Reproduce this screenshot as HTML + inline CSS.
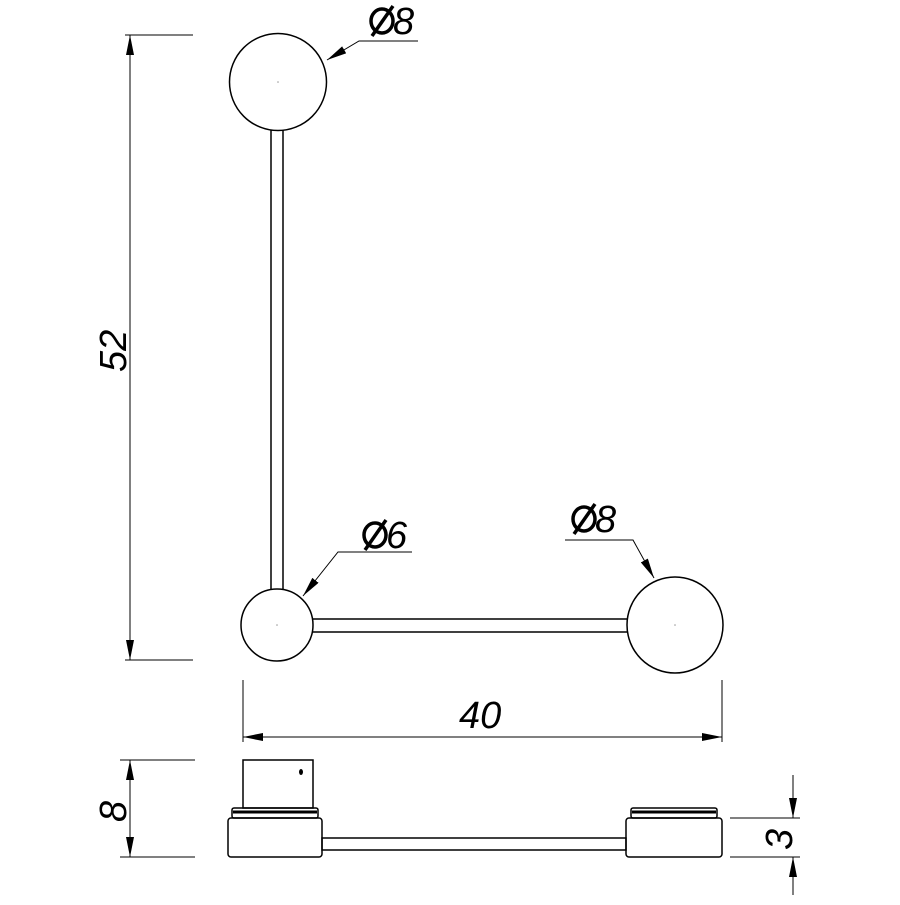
<!DOCTYPE html>
<html><head><style>body{margin:0;background:#fff}</style></head><body>
<svg width="900" height="900" viewBox="0 0 900 900" xmlns="http://www.w3.org/2000/svg">
<defs><marker id="a" viewBox="0 0 10 4" refX="10" refY="2" markerWidth="20" markerHeight="8" markerUnits="userSpaceOnUse" orient="auto"><path d="M0,0L10,2L0,4z" fill="#000"/></marker></defs>
<g fill="none" stroke="#000" stroke-width="1.5">
<rect x="271" y="130" width="12" height="463"/>
<rect x="311" y="619" width="318" height="13"/>
<circle cx="278" cy="82" r="48.5" fill="#fff"/>
<circle cx="277" cy="625" r="36" fill="#fff"/>
<circle cx="675" cy="625" r="48" fill="#fff"/>
<rect x="243" y="760" width="70" height="48"/>
<rect x="232" y="808" width="86" height="10" rx="2"/>
<rect x="228" y="818" width="94" height="39" rx="3"/>
<rect x="322" y="838" width="304" height="12"/>
<rect x="631" y="808" width="86" height="10" rx="2"/>
<rect x="626" y="818" width="96" height="39" rx="3"/>
</g>
<g fill="#999"><circle cx="278" cy="82" r="0.8"/><circle cx="277" cy="625" r="0.8"/><circle cx="675" cy="625" r="0.8"/></g>
<g stroke="#000" stroke-width="3"><line x1="233" y1="812" x2="317" y2="812"/><line x1="632" y1="812" x2="716" y2="812"/></g>
<ellipse cx="301" cy="772" rx="2" ry="3" fill="#000"/>
<g stroke="#000" stroke-width="1">
<line x1="125" y1="35" x2="193" y2="35"/><line x1="125" y1="660" x2="193" y2="660"/>
<line x1="130" y1="35" x2="130" y2="660" marker-end="url(#a)"/>
<line x1="130" y1="660" x2="130" y2="35" marker-end="url(#a)"/>
<line x1="243" y1="680" x2="243" y2="742"/><line x1="722" y1="680" x2="722" y2="742"/>
<line x1="243" y1="737" x2="722" y2="737" marker-end="url(#a)"/>
<line x1="722" y1="737" x2="243" y2="737" marker-end="url(#a)"/>
<line x1="120" y1="760" x2="195" y2="760"/><line x1="120" y1="857" x2="195" y2="857"/>
<line x1="130" y1="760" x2="130" y2="857" marker-end="url(#a)"/>
<line x1="130" y1="857" x2="130" y2="760" marker-end="url(#a)"/>
<line x1="730" y1="818" x2="800" y2="818"/><line x1="730" y1="857" x2="800" y2="857"/>
<line x1="793" y1="775" x2="793" y2="818" marker-end="url(#a)"/>
<line x1="793" y1="895" x2="793" y2="857" marker-end="url(#a)"/>
<polyline points="418,41 359,41 327,60" fill="none" marker-end="url(#a)"/>
<polyline points="412,552 338,552 303,596" fill="none" marker-end="url(#a)"/>
<polyline points="565,540 633,540 654,578" fill="none" marker-end="url(#a)"/>
</g>
<g fill="none" stroke="#000" stroke-width="3.5">
<ellipse cx="382" cy="21" rx="11" ry="12"/><line x1="372" y1="36" x2="393" y2="6"/>
<ellipse cx="375" cy="535" rx="11" ry="12"/><line x1="365" y1="550" x2="386" y2="520"/>
<ellipse cx="584" cy="519" rx="11" ry="12"/><line x1="574" y1="534" x2="595" y2="504"/>
</g>
<g font-family="Liberation Sans, sans-serif" font-style="italic" font-size="38" fill="#000">
<text x="393" y="34">8</text>
<text x="386" y="548">6</text>
<text x="595" y="532">8</text>
<text x="459" y="728">40</text>
<text transform="translate(126,372) rotate(-90)">52</text>
<text transform="translate(126,822) rotate(-90)">8</text>
<text transform="translate(792,850) rotate(-90)">3</text>
</g>
</svg>
</body></html>
